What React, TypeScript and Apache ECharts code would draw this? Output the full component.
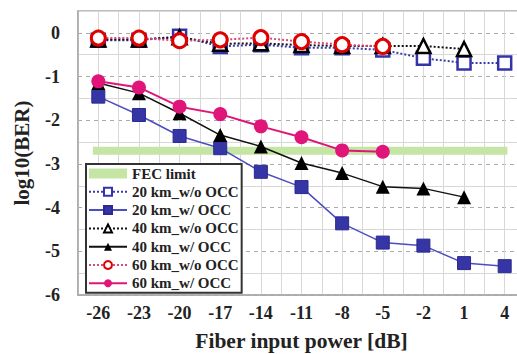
import React, { useEffect, useRef } from "react";
import * as echarts from "echarts";

const powers = [-26, -23, -20, -17, -14, -11, -8, -5, -2, 1, 4];
const ber20wo = [-0.17, -0.17, -0.08, -0.31, -0.27, -0.34, -0.34, -0.39, -0.58, -0.69, -0.69];
const ber20w = [-1.46, -1.88, -2.36, -2.64, -3.18, -3.53, -4.36, -4.8, -4.87, -5.27, -5.34];
const ber40wo = [-0.15, -0.15, -0.1, -0.25, -0.24, -0.28, -0.3, -0.3, -0.3, -0.37];
const ber40w = [-1.15, -1.38, -1.84, -2.34, -2.6, -2.98, -3.21, -3.52, -3.56, -3.76];
const ber60wo = [-0.12, -0.12, -0.18, -0.16, -0.11, -0.2, -0.27, -0.31];
const ber60w = [-1.11, -1.25, -1.69, -1.86, -2.14, -2.39, -2.69, -2.72];
const fecPowers = [-26.4, 4.2];
const fecLevel = -2.7;

const pairs = (ys: number[]) => ys.map((y, i) => [powers[i], y]);

const FONT = "'Liberation Serif', 'Times New Roman', serif";

export default function App() {
  const ref = useRef<HTMLDivElement>(null);
  useEffect(() => {
    if (!ref.current) return;
    const chart = echarts.init(ref.current, null, { renderer: "svg" });
    const textBase = { fontFamily: FONT, fontWeight: "bold", color: "#222" };
    chart.setOption({
      animation: false,
      backgroundColor: "#fff",
      grid: {
        left: 78,
        right: -8,
        top: 11,
        bottom: 59,
        show: true,
        borderColor: "#aaa",
        borderWidth: 1.5,
        backgroundColor: "#fff",
        containLabel: false,
        outerBoundsMode: "none",
      },
      legend: {
        orient: "vertical",
        left: 86,
        top: 164,
        backgroundColor: "#fff",
        borderColor: "#333",
        borderWidth: 2,
        borderRadius: 0,
        padding: [2, 3, 2, 2],
        itemWidth: 38,
        itemHeight: 10,
        itemGap: 3.3,
        textStyle: { ...textBase, fontSize: 15, lineHeight: 14 },
        data: [
          { name: "FEC limit", icon: "rect", itemStyle: { color: "#c5e5a5" } },
          "20 km_w/o OCC",
          "20 km_w/ OCC",
          "40 km_w/o OCC",
          "40 km_w/ OCC",
          "60 km_w/o OCC",
          "60 km_w/ OCC",
        ],
      },
      xAxis: {
        type: "value",
        min: -27.5,
        max: 5.5,
        interval: 1.5,
        name: "Fiber input power [dB]",
        nameLocation: "middle",
        nameGap: 35,
        nameTextStyle: { ...textBase, fontSize: 21.5 },
        axisLine: { show: true, onZero: false, lineStyle: { color: "#aaa", width: 1.5 } },
        axisTick: { show: false },
        axisLabel: {
          ...textBase,
          fontSize: 18,
          margin: 9,
          formatter: (v: number) => {
            const k = (v + 26) / 3;
            return Math.abs(k - Math.round(k)) < 1e-6 ? String(Math.round(v)) : "";
          },
        },
        splitLine: { show: true, lineStyle: { color: "#d8d8d8", width: 1 } },
      },
      yAxis: [
        {
          type: "value",
          min: -6,
          max: 0.5,
          interval: 1,
          name: "log10(BER)",
          nameLocation: "middle",
          nameGap: 46,
          nameRotate: 90,
          nameTextStyle: { ...textBase, fontSize: 21 },
          axisLine: { show: true, onZero: false, lineStyle: { color: "#aaa", width: 1.5 } },
          axisTick: { show: false },
          axisLabel: {
            ...textBase,
            fontSize: 18,
            margin: 18,
            formatter: (v: number) => (Math.abs(v - Math.round(v)) < 1e-6 ? String(Math.round(v)) : ""),
          },
          splitLine: { show: true, lineStyle: { color: "#aaa", type: [4, 4], width: 1 } },
        },
        {
          type: "value",
          min: -6,
          max: 0.5,
          interval: 0.5,
          position: "left",
          axisLine: { show: false, onZero: false },
          axisTick: { show: false },
          axisLabel: { show: false },
          splitLine: { show: true, lineStyle: { color: ["rgba(0,0,0,0)", "#d8d8d8"], width: 1 } },
        },
      ],
      series: [
        {
          name: "FEC limit",
          type: "line",
          data: fecPowers.map((p) => [p, fecLevel]),
          symbol: "none",
          lineStyle: { color: "#c5e5a5", width: 8 },
          itemStyle: { color: "#c5e5a5" },
          z: 2,
        },
        {
          name: "20 km_w/o OCC",
          type: "line",
          data: pairs(ber20wo),
          symbol: "rect",
          symbolSize: 13,
          lineStyle: { color: "#3b3bb0", width: 2, type: "dotted" },
          itemStyle: { color: "#fff", borderColor: "#3434a8", borderWidth: 2.5 },
          z: 3,
        },
        {
          name: "20 km_w/ OCC",
          type: "line",
          data: pairs(ber20w),
          symbol: "rect",
          symbolSize: 13,
          lineStyle: { color: "#4d4dc0", width: 1.5 },
          itemStyle: { color: "#3535a5", borderColor: "#2a2a90", borderWidth: 1 },
          z: 3,
        },
        {
          name: "40 km_w/o OCC",
          type: "line",
          data: pairs(ber40wo),
          symbol: "triangle",
          symbolSize: 14,
          lineStyle: { color: "#111", width: 2, type: "dotted" },
          itemStyle: { color: "#fff", borderColor: "#000", borderWidth: 2.5 },
          z: 4,
        },
        {
          name: "40 km_w/ OCC",
          type: "line",
          data: pairs(ber40w),
          symbol: "triangle",
          symbolSize: 14,
          lineStyle: { color: "#111", width: 1.5 },
          itemStyle: { color: "#000" },
          z: 4,
        },
        {
          name: "60 km_w/o OCC",
          type: "line",
          data: pairs(ber60wo),
          symbol: "circle",
          symbolSize: 14,
          lineStyle: { color: "#d84a7a", width: 2, type: "dotted" },
          itemStyle: { color: "#fff", borderColor: "#e00000", borderWidth: 3 },
          z: 5,
        },
        {
          name: "60 km_w/ OCC",
          type: "line",
          data: pairs(ber60w),
          symbol: "circle",
          symbolSize: 14,
          lineStyle: { color: "#e0157a", width: 2 },
          itemStyle: { color: "#e0157a" },
          z: 5,
        },
      ],
    });
    return () => chart.dispose();
  }, []);
  return <div ref={ref} style={{ width: 517, height: 354, position: "absolute", left: 0, top: 0 }} />;
}
